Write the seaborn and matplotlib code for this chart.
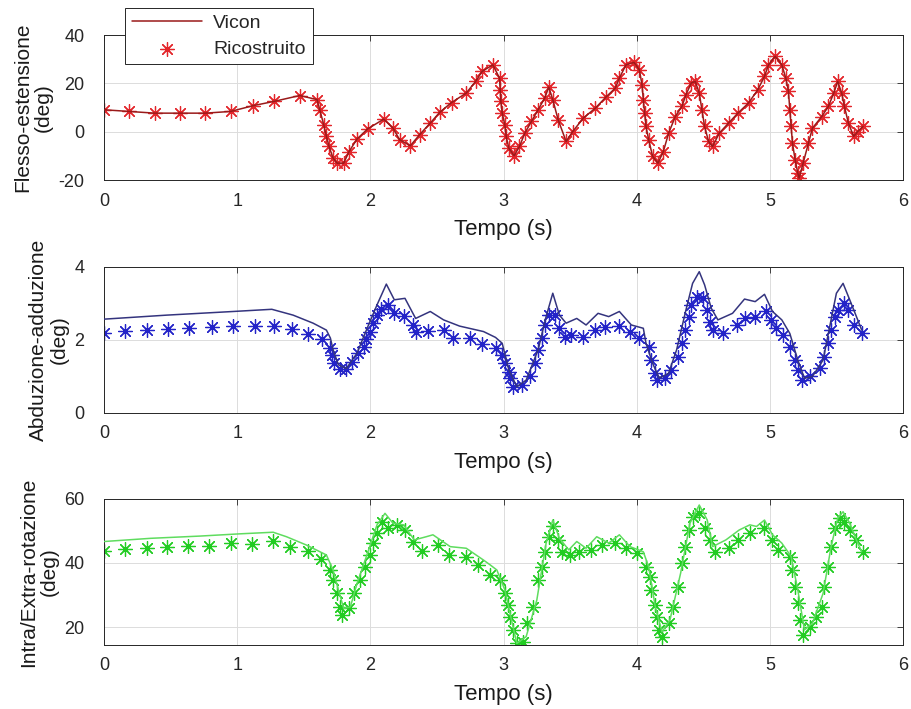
import matplotlib
matplotlib.use("Agg")
import matplotlib.pyplot as plt
import seaborn as sns
import numpy as np

# --- Flesso-estensione (Vicon and Ricostruito overlap) ---
flex_t = [0.00, 0.19, 0.38, 0.57, 0.76, 0.95, 1.12, 1.28, 1.47, 1.60, 1.62, 1.65, 1.67,
          1.69, 1.72, 1.75, 1.80, 1.84, 1.90, 1.98, 2.10, 2.17, 2.22, 2.30, 2.37, 2.45,
          2.52, 2.61, 2.72, 2.79, 2.84, 2.92, 2.97, 2.975, 2.98, 2.99, 3.01, 3.02, 3.04,
          3.08, 3.12, 3.16, 3.21, 3.26, 3.31, 3.34, 3.37, 3.41, 3.47, 3.52, 3.60, 3.69,
          3.77, 3.84, 3.87, 3.92, 3.98, 4.02, 4.04, 4.05, 4.06, 4.07, 4.09, 4.12, 4.16,
          4.20, 4.24, 4.29, 4.34, 4.37, 4.41, 4.44, 4.47, 4.49, 4.51, 4.54, 4.57, 4.62,
          4.69, 4.76, 4.84, 4.91, 4.96, 4.99, 5.04, 5.09, 5.12, 5.14, 5.15, 5.16, 5.17,
          5.19, 5.21, 5.22, 5.25, 5.29, 5.32, 5.39, 5.44, 5.48, 5.51, 5.54, 5.56, 5.59,
          5.63, 5.66, 5.70]
flex_rico = [9.1, 8.4, 7.7, 7.7, 7.7, 8.4, 10.8, 12.6, 15.0, 13.3, 9.1, 2.9, -1.9,
             -6.1, -10.9, -13.0, -13.0, -8.2, -3.0, 1.2, 5.2, 1.5, -3.3, -5.8, -1.2, 3.6,
             8.0, 12.1, 16.0, 20.8, 25.0, 27.7, 22.2, 17.4, 12.6, 7.7, 2.9, -1.9, -6.8,
             -9.9, -6.1, -0.6, 4.3, 9.1, 14.0, 18.5, 13.3, 5.0, -4.0, 0.1, 5.7, 9.8,
             14.4, 18.1, 22.2, 27.7, 28.7, 25.7, 19.5, 13.3, 7.7, 2.2, -3.3, -10.2, -13.0,
             -8.2, -0.6, 6.3, 10.5, 15.3, 20.2, 20.8, 16.0, 9.1, 2.2, -4.0, -6.1, -0.6,
             3.6, 7.7, 11.9, 17.4, 22.9, 27.7, 31.2, 27.7, 22.2, 16.7, 9.1, 2.2, -4.7,
             -11.6, -17.1, -19.2, -13.0, -4.7, 1.5, 6.3, 10.5, 16.0, 20.8, 16.0, 10.5, 3.6,
             -1.9, 0.1, 2.2]
flex_vicon = flex_rico

# --- Abduzione-adduzione ---
abd_vicon_t = [0.00, 0.47, 0.97, 1.26, 1.42, 1.57, 1.67, 1.70, 1.72, 1.76, 1.82, 1.90,
               1.97, 2.05, 2.12, 2.18, 2.26, 2.34, 2.45, 2.55, 2.67, 2.85, 2.94, 2.99,
               3.04, 3.10, 3.17, 3.26, 3.32, 3.37, 3.42, 3.47, 3.55, 3.62, 3.71, 3.79,
               3.87, 3.96, 4.05, 4.07, 4.12, 4.17, 4.24, 4.30, 4.37, 4.42, 4.47, 4.51,
               4.56, 4.61, 4.72, 4.81, 4.89, 4.96, 5.02, 5.09, 5.15, 5.21, 5.26, 5.32,
               5.40, 5.45, 5.50, 5.55, 5.60, 5.66, 5.69]
abd_vicon = [2.57, 2.68, 2.78, 2.84, 2.68, 2.46, 2.27, 2.05, 1.73, 1.32, 1.22, 1.64,
             2.27, 2.96, 3.53, 3.10, 3.14, 2.59, 2.78, 2.55, 2.38, 2.23, 2.07, 1.91,
             1.18, 0.72, 0.90, 1.73, 2.64, 3.28, 2.68, 2.46, 2.59, 2.41, 2.73, 2.64,
             2.78, 2.41, 2.32, 1.91, 1.36, 0.95, 1.09, 1.73, 2.82, 3.55, 3.87, 3.51,
             2.87, 2.55, 2.73, 3.12, 3.05, 3.25, 2.78, 2.55, 2.18, 1.45, 0.95, 1.00,
             1.45, 2.37, 3.28, 3.55, 3.10, 2.55, 2.27]
abd_t = [0.00, 0.16, 0.32, 0.48, 0.64, 0.81, 0.97, 1.13, 1.28, 1.41, 1.53, 1.64, 1.70,
         1.71, 1.73, 1.77, 1.82, 1.86, 1.91, 1.95, 1.97, 2.00, 2.02, 2.05, 2.08, 2.13,
         2.18, 2.25, 2.32, 2.34, 2.43, 2.55, 2.62, 2.75, 2.84, 2.94, 2.99, 3.01, 3.04,
         3.05, 3.07, 3.14, 3.20, 3.24, 3.26, 3.29, 3.31, 3.34, 3.39, 3.42, 3.46, 3.51,
         3.60, 3.69, 3.76, 3.87, 3.95, 4.02, 4.09, 4.11, 4.14, 4.15, 4.21, 4.26, 4.31,
         4.34, 4.36, 4.39, 4.41, 4.45, 4.50, 4.53, 4.55, 4.57, 4.65, 4.75, 4.81, 4.89,
         4.97, 5.01, 5.05, 5.10, 5.15, 5.19, 5.21, 5.24, 5.30, 5.38, 5.41, 5.44, 5.46,
         5.49, 5.51, 5.56, 5.59, 5.63, 5.69]
abd_rico = [2.20, 2.25, 2.27, 2.30, 2.32, 2.35, 2.37, 2.37, 2.39, 2.30, 2.16, 2.02, 1.77,
            1.59, 1.36, 1.20, 1.20, 1.41, 1.64, 1.82, 2.02, 2.23, 2.46, 2.68, 2.84, 2.96,
            2.73, 2.66, 2.41, 2.23, 2.25, 2.27, 2.05, 2.05, 1.89, 1.77, 1.59, 1.36, 1.13,
            0.95, 0.72, 0.77, 1.00, 1.36, 1.73, 2.05, 2.41, 2.68, 2.68, 2.32, 2.09, 2.14,
            2.09, 2.27, 2.35, 2.38, 2.23, 2.05, 1.82, 1.45, 1.09, 0.90, 0.95, 1.18, 1.54,
            1.91, 2.27, 2.64, 2.96, 3.19, 3.14, 2.82, 2.50, 2.27, 2.18, 2.41, 2.59, 2.64,
            2.78, 2.55, 2.32, 2.14, 1.82, 1.45, 1.18, 0.90, 1.00, 1.22, 1.54, 1.91, 2.27,
            2.64, 2.82, 3.00, 2.82, 2.41, 2.18]

# --- Intra/Extra-rotazione ---
rot_vicon_t = [0.00, 0.35, 0.72, 1.02, 1.27, 1.37, 1.52, 1.67, 1.72, 1.76, 1.80, 1.85,
               1.90, 1.97, 2.05, 2.11, 2.17, 2.25, 2.33, 2.42, 2.47, 2.60, 2.72, 2.85,
               2.90, 2.95, 3.01, 3.06, 3.10, 3.17, 3.25, 3.32, 3.37, 3.42, 3.49, 3.55,
               3.62, 3.70, 3.79, 3.87, 3.95, 4.05, 4.09, 4.14, 4.19, 4.25, 4.33, 4.40,
               4.47, 4.53, 4.57, 4.67, 4.77, 4.85, 4.90, 4.96, 5.02, 5.09, 5.16, 5.21,
               5.26, 5.32, 5.40, 5.46, 5.51, 5.55, 5.60, 5.65, 5.69]
rot_vicon = [46.7, 47.7, 48.4, 49.1, 49.6, 48.2, 45.6, 42.5, 37.8, 31.6, 25.8, 26.3,
             33.6, 42.0, 51.9, 55.5, 52.4, 51.9, 47.2, 48.2, 48.8, 45.1, 44.6, 40.9,
             39.4, 37.8, 31.6, 22.2, 14.9, 17.0, 28.4, 46.2, 53.4, 47.7, 44.1, 46.7,
             44.6, 48.2, 46.2, 48.8, 45.1, 43.5, 38.8, 26.3, 18.5, 22.2, 36.8, 52.4,
             58.1, 53.4, 45.1, 47.2, 50.3, 51.9, 51.4, 53.4, 48.8, 46.2, 42.0, 31.6,
             19.1, 21.2, 30.5, 45.1, 54.0, 56.0, 52.4, 47.2, 43.5]
rot_t = [0.00, 0.16, 0.32, 0.47, 0.63, 0.79, 0.95, 1.11, 1.27, 1.40, 1.53, 1.63, 1.70,
         1.72, 1.75, 1.77, 1.79, 1.84, 1.88, 1.92, 1.96, 2.00, 2.02, 2.05, 2.09, 2.13,
         2.20, 2.26, 2.32, 2.39, 2.51, 2.59, 2.72, 2.81, 2.90, 2.97, 3.01, 3.03, 3.05,
         3.07, 3.10, 3.15, 3.18, 3.22, 3.26, 3.29, 3.31, 3.34, 3.37, 3.41, 3.44, 3.50,
         3.57, 3.66, 3.74, 3.84, 3.92, 4.00, 4.07, 4.10, 4.11, 4.14, 4.15, 4.17, 4.19,
         4.24, 4.27, 4.31, 4.34, 4.36, 4.39, 4.42, 4.47, 4.51, 4.55, 4.59, 4.69, 4.76,
         4.85, 4.96, 5.02, 5.06, 5.15, 5.17, 5.19, 5.21, 5.23, 5.25, 5.30, 5.35, 5.39,
         5.41, 5.44, 5.46, 5.49, 5.53, 5.56, 5.60, 5.65, 5.70]
rot_rico = [43.8, 44.4, 44.6, 45.1, 45.3, 45.4, 46.2, 45.9, 47.0, 44.9, 43.8, 41.2, 37.8,
            34.7, 30.5, 26.3, 23.8, 25.8, 30.5, 34.7, 38.8, 42.5, 46.2, 49.3, 52.9, 50.8,
            51.9, 50.3, 46.7, 43.8, 45.6, 42.5, 42.0, 39.4, 36.3, 34.7, 30.5, 26.9, 23.2,
            19.1, 14.9, 15.4, 21.2, 26.3, 34.7, 38.8, 43.5, 48.2, 51.4, 47.2, 43.5, 42.5,
            43.5, 44.1, 45.6, 46.2, 44.6, 43.0, 38.8, 35.7, 31.6, 26.9, 23.2, 19.1, 17.0,
            21.2, 26.3, 32.6, 39.9, 45.1, 50.3, 54.5, 55.5, 50.8, 47.2, 43.5, 44.6, 47.2,
            49.3, 50.8, 47.2, 44.1, 42.0, 37.8, 32.6, 27.4, 22.2, 17.5, 20.1, 23.2, 26.3,
            32.6, 38.8, 45.1, 50.8, 54.0, 52.9, 50.3, 47.2, 43.5]

x_ticks = [0, 1, 2, 3, 4, 5, 6]

panels = [
    dict(t=flex_t, vicon=flex_vicon, tr=flex_t, rico=flex_rico, line="#9a1a1a", mark="#e3262b",
         ylabel="Flesso-estensione\n(deg)", ylim=(-20, 40), yticks=[-20, 0, 20, 40]),
    dict(t=abd_vicon_t, vicon=abd_vicon, tr=abd_t, rico=abd_rico, line="#34347e", mark="#2323c8",
         ylabel="Abduzione-adduzione\n(deg)", ylim=(0, 4), yticks=[0, 2, 4]),
    dict(t=rot_vicon_t, vicon=rot_vicon, tr=rot_t, rico=rot_rico, line="#5fdc5f", mark="#22cc22",
         ylabel="Intra/Extra-rotazione\n(deg)", ylim=(14.4, 60), yticks=[20, 40, 60]),
]

sns.set_theme(style="white")
plt.rcParams["font.family"] = ["Liberation Sans", "DejaVu Sans"]
plt.rcParams["axes.unicode_minus"] = False

fig = plt.figure(figsize=(9.11, 7.09), dpi=100)
boxes = [(0.1142, 0.746, 0.877, 0.2045),
         (0.1142, 0.4175, 0.877, 0.206),
         (0.1142, 0.0903, 0.877, 0.206)]
star = (8, 2, 0)

axes = []
for box, p in zip(boxes, panels):
    ax = fig.add_axes(box)
    sns.scatterplot(x=p["tr"], y=p["rico"], ax=ax, marker=star, color=p["mark"],
                    s=100, linewidth=0.9, label="Ricostruito", zorder=2, legend=False)
    sns.lineplot(x=p["t"], y=p["vicon"], ax=ax, color=p["line"], linewidth=1.1,
                 estimator=None, sort=False, label="Vicon", zorder=3, legend=False)
    ax.set_xlim(0, 6)
    ax.set_ylim(*p["ylim"])
    ax.set_xticks(x_ticks)
    ax.set_yticks(p["yticks"])
    ax.grid(True, color="#dcdcdc", linewidth=0.7)
    ax.tick_params(direction="in", top=True, right=True, length=4, width=0.6,
                   labelsize=13, colors="#262626")
    ax.tick_params(axis="y", pad=14)
    ax.tick_params(axis="x", pad=9)
    for sp in ax.spines.values():
        sp.set_color("#262626")
        sp.set_linewidth(0.7)
    ax.set_xlabel("Tempo (s)", fontsize=16, color="#1a1a1a", labelpad=7)
    ax.set_ylabel(p["ylabel"], fontsize=15, color="#1a1a1a", labelpad=4, linespacing=1.1)
    axes.append(ax)

ax1 = axes[0]
handles, labels = ax1.get_legend_handles_labels()
order = [labels.index("Vicon"), labels.index("Ricostruito")]
leg = ax1.legend([handles[i] for i in order], [labels[i] for i in order],
                 loc="upper left", bbox_to_anchor=(0.137, 0.989), bbox_transform=fig.transFigure,
                 fontsize=14, frameon=True, fancybox=False, edgecolor="#262626",
                 handlelength=3.6, handletextpad=0.6, borderpad=0.35, labelspacing=0.4,
                 borderaxespad=0)
leg.get_frame().set_linewidth(0.7)
leg.get_frame().set_alpha(1)

fig.savefig("out.png", dpi=100)
